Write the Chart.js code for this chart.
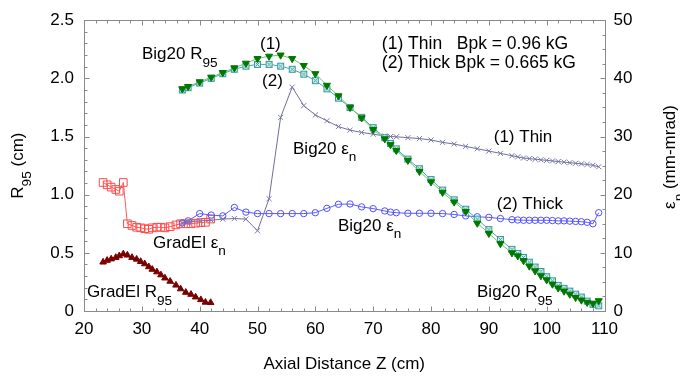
<!DOCTYPE html>
<html><head><meta charset="utf-8">
<script src="https://cdn.jsdelivr.net/npm/chart.js@4/dist/chart.umd.min.js"></script>
<style>html,body{margin:0;padding:0;background:#fff}</style>
</head><body>
<canvas id="c" width="680" height="379" style="width:680px;height:379px;display:block"></canvas>
<script>
// ---- data ----
const big20Z = [37,38,40,42,44,46,48,50,52,54,56,58,60,62,64,66,68,70,72,73,74,76,78,80,82,84,86,88,90,92,94,95,96,97,98,99,100,101,102,103,104,105,106,107,108,109];
const big20R95Thin = [1.91,1.93,1.97,2.01,2.05,2.09,2.13,2.17,2.19,2.20,2.17,2.11,2.04,1.94,1.85,1.75,1.66,1.56,1.48,1.43,1.38,1.295,1.20,1.11,1.02,0.937,0.855,0.755,0.667,0.579,0.50,0.474,0.433,0.386,0.345,0.303,0.268,0.231,0.198,0.171,0.144,0.116,0.094,0.074,0.066,0.088];
const big20R95Thick = [1.90,1.92,1.96,2.00,2.04,2.078,2.105,2.12,2.12,2.105,2.078,2.036,1.98,1.91,1.83,1.75,1.665,1.576,1.49,1.44,1.394,1.306,1.223,1.13,1.04,0.956,0.875,0.79,0.70,0.615,0.53,0.495,0.46,0.42,0.378,0.34,0.295,0.26,0.22,0.195,0.171,0.145,0.12,0.085,0.058,0.045];
const big20EpsThin = [15.1,15.3,15.5,15.6,15.8,15.9,15.8,13.8,19.3,33.3,38.5,35.3,33.7,32.7,31.7,31.1,30.7,30.4,30.1,30.0,29.95,29.8,29.65,29.4,29.0,28.7,28.3,27.9,27.5,27.1,26.7,26.5,26.3,26.2,26.1,26.0,25.9,25.8,25.7,25.6,25.5,25.4,25.3,25.2,25.05,24.8];
const big20EpsThick = [15.15,15.5,16.75,16.5,16.35,17.8,17.0,16.75,16.75,16.75,16.75,16.75,16.9,17.65,18.35,18.4,17.9,17.6,17.2,17.0,16.9,16.8,16.8,16.8,16.75,16.6,16.35,16.2,16.1,15.9,15.7,15.65,15.6,15.6,15.6,15.6,15.6,15.55,15.5,15.5,15.45,15.4,15.35,15.25,15.0,16.9];
const gradElZ = [23.3,24.0,24.7,25.5,26.1,26.8,27.5,28.3,29.1,29.8,30.5,31.2,31.8,32.6,33.3,34.0,34.9,35.9,36.7,37.6,38.5,39.3,40.2,41.0,41.9];
const gradElEps = [22.1,21.7,21.3,20.9,20.6,22.1,15.0,14.7,14.4,14.3,14.15,14.05,14.3,14.4,14.4,14.3,14.5,14.8,15.0,15.0,15.0,15.1,15.2,15.25,15.8];
const gradElR95 = [0.42,0.435,0.447,0.46,0.474,0.49,0.48,0.46,0.445,0.425,0.405,0.38,0.358,0.336,0.31,0.283,0.255,0.222,0.19,0.16,0.143,0.12,0.097,0.075,0.072];

const xTickValues = [20,30,40,50,60,70,80,90,100,110];
const xTickLabels = ['20','30','40','50','60','70','80','90','100','110'];
const leftTickValues = [0,0.5,1.0,1.5,2.0,2.5];
const leftTickLabels = ['0','0.5','1.0','1.5','2.0','2.5'];
const rightTickValues = [0,10,20,30,40,50];
const rightTickLabels = ['0','10','20','30','40','50'];

// ---- style ----
const FONT = '"Liberation Sans", Arial, Helvetica, sans-serif';
const FS = 17;

function boxX(stroke, fill){
  const s = 9, c = document.createElement('canvas');
  c.width = s; c.height = s;
  const g = c.getContext('2d');
  g.fillStyle = fill; g.fillRect(1,1,7,7);
  g.strokeStyle = stroke; g.lineWidth = 1;
  g.strokeRect(1.5,1.5,6,6);
  g.beginPath(); g.moveTo(2.5,2.5); g.lineTo(6.5,6.5); g.moveTo(6.5,2.5); g.lineTo(2.5,6.5); g.stroke();
  return c;
}

function series(xs, ys, axis, opt){
  return Object.assign({
    data: xs.map((x,i)=>({x:x, y:ys[i]})),
    yAxisID: axis, showLine:true, borderWidth:1, tension:0, fill:false
  }, opt);
}

const datasets = [
  series(big20Z, big20R95Thin, 'y', {borderColor:'#6cc46c', pointStyle:'triangle', rotation:180, pointRadius:4.1, pointBackgroundColor:'#007800', pointBorderColor:'#007800', pointBorderWidth:1}),
  series(big20Z, big20R95Thick, 'y', {borderColor:'#45a8a8', pointStyle:boxX('#3a9d9d','#d6eeee'), pointRadius:4}),
  series(big20Z, big20EpsThin, 'yR', {borderColor:'#6e6e9e', pointStyle:'crossRot', pointRadius:3.6, pointBorderColor:'#7a7aa8', pointBorderWidth:1}),
  series(big20Z, big20EpsThick, 'yR', {borderColor:'#5a5aff', pointStyle:'circle', pointRadius:3.2, pointBackgroundColor:'rgba(255,255,255,0)', pointBorderColor:'#5050ff', pointBorderWidth:1}),
  series(gradElZ, gradElEps, 'yR', {borderColor:'#ff5a5a', pointStyle:'rect', pointRadius:5.4, pointBackgroundColor:'rgba(255,255,255,0)', pointBorderColor:'#ff4a4a', pointBorderWidth:1}),
  series(gradElZ, gradElR95, 'y', {borderColor:'#800000', pointStyle:'triangle', pointRadius:3.8, pointBackgroundColor:'#7a0000', pointBorderColor:'#7a0000', pointBorderWidth:1})
];

// annotations: anchor = (z, R95) at left edge / text baseline
const annotations = [
  {z:30.03, r:2.165, parts:[['Big20 R',0],['95',1]]},
  {z:50.43, r:2.255, parts:[['(1)',0]]},
  {z:50.78, r:1.937, parts:[['(2)',0]]},
  {z:56.14, r:1.352, parts:[['Big20 \u03b5',0],['n',1]]},
  {z:71.50, r:2.252, size:17.5, parts:[['(1) Thin   Bpk = 0.96 kG',0]]},
  {z:71.50, r:2.092, size:17.5, parts:[['(2) Thick Bpk = 0.665 kG',0]]},
  {z:90.85, r:1.455, parts:[['(1) Thin',0]]},
  {z:91.38, r:0.881, parts:[['(2) Thick',0]]},
  {z:63.92, r:0.691, parts:[['Big20 \u03b5',0],['n',1]]},
  {z:87.96, r:0.121, parts:[['Big20 R',0],['95',1]]},
  {z:31.93, r:0.543, parts:[['GradEl \u03b5',0],['n',1]]},
  {z:20.52, r:0.121, parts:[['GradEl R',0],['95',1]]}
];

function drawRich(ctx, x, y, parts, size){
  let cx = x;
  for (const [t, sub] of parts){
    const fs = sub ? size*0.8 : size;
    ctx.font = fs + 'px ' + FONT;
    ctx.fillText(t, cx, sub ? y + size*0.45 : y);
    cx += ctx.measureText(t).width;
  }
  return cx - x;
}
function richWidth(ctx, parts, size){
  let w = 0;
  for (const [t, sub] of parts){ ctx.font = (sub ? size*0.8 : size) + 'px ' + FONT; w += ctx.measureText(t).width; }
  return w;
}

const framePlugin = {
  id:'frame',
  beforeDatasetsDraw(chart){
    const {ctx, chartArea:a, scales} = chart;
    const L = Math.round(a.left)+0.5, R = Math.round(a.right)+0.5, T = Math.round(a.top)+0.5, B = Math.round(a.bottom)+0.5;
    ctx.save();
    ctx.strokeStyle = '#8a8a8a'; ctx.lineWidth = 1;
    ctx.strokeRect(L, T, R-L, B-T);
    ctx.beginPath();
    const major = 5, minor = 3;
    for (let v = 20; v <= 110.001; v += 2){
      const px = Math.round(scales.x.getPixelForValue(v))+0.5;
      const len = (Math.abs(v % 10) < 1e-6) ? major : minor;
      ctx.moveTo(px, B); ctx.lineTo(px, B-len);
      ctx.moveTo(px, T); ctx.lineTo(px, T+len);
    }
    for (let i = 0; i <= 25; i++){
      const py = Math.round(scales.y.getPixelForValue(i/10))+0.5;
      const len = (i % 5 === 0) ? major : minor;
      ctx.moveTo(L, py); ctx.lineTo(L+len, py);
    }
    for (let i = 0; i <= 20; i++){
      const py = Math.round(scales.yR.getPixelForValue(i*2.5))+0.5;
      const len = (i % 4 === 0) ? major : minor;
      ctx.moveTo(R, py); ctx.lineTo(R-len, py);
    }
    ctx.stroke();
    ctx.restore();
  }
};

const textPlugin = {
  id:'texts',
  afterDraw(chart){
    const {ctx, chartArea:a, scales} = chart;
    ctx.save();
    ctx.fillStyle = '#000';
    ctx.textBaseline = 'alphabetic';
    ctx.textAlign = 'left';
    for (const an of annotations){
      drawRich(ctx, scales.x.getPixelForValue(an.z), scales.y.getPixelForValue(an.r), an.parts, an.size || FS);
    }
    // x title
    ctx.font = FS + 'px ' + FONT;
    ctx.textAlign = 'center';
    ctx.fillText('Axial Distance Z (cm)', (a.left+a.right)/2, 369);
    ctx.textAlign = 'left';
    // left title
    const lp = [['R',0],['95',1],[' (cm)',0]];
    let w = richWidth(ctx, lp, FS);
    ctx.save(); ctx.translate(23, (a.top+a.bottom)/2); ctx.rotate(-Math.PI/2);
    drawRich(ctx, -w/2, 0, lp, FS); ctx.restore();
    // right title
    const rp = [['\u03b5',0],['n',1],[' (mm-mrad)',0]];
    w = richWidth(ctx, rp, FS);
    ctx.save(); ctx.translate(675, 157); ctx.rotate(-Math.PI/2);
    drawRich(ctx, -w/2, 0, rp, FS); ctx.restore();
    ctx.restore();
  }
};

function fixedTicks(values){ return s => { s.ticks = values.map(v => ({value:v})); }; }

new Chart(document.getElementById('c'), {
  type:'line',
  data:{datasets:datasets},
  options:{
    responsive:false, animation:false, devicePixelRatio:1,
    layout:{padding:{top:8,left:0,right:0,bottom:0}},
    plugins:{legend:{display:false}, tooltip:{enabled:false}},
    elements:{line:{borderWidth:1}},
    scales:{
      x:{type:'linear', min:20, max:110,
         afterBuildTicks: fixedTicks(xTickValues),
         afterFit: s => { s.height = 68; },
         ticks:{autoSkip:false, maxRotation:0, color:'#000', font:{family:FONT, size:FS}, padding:8,
                callback:(v)=>xTickLabels[xTickValues.indexOf(v)]},
         grid:{display:false, drawTicks:false}, border:{display:false}},
      y:{type:'linear', position:'left', min:0, max:2.5,
         afterBuildTicks: fixedTicks(leftTickValues),
         afterFit: s => { s.width = 84; },
         ticks:{color:'#000', font:{family:FONT, size:FS}, padding:10,
                callback:(v)=>leftTickLabels[leftTickValues.findIndex(t=>Math.abs(t-v)<1e-9)]},
         grid:{display:false, drawTicks:false}, border:{display:false}},
      yR:{type:'linear', position:'right', min:0, max:50,
         afterBuildTicks: fixedTicks(rightTickValues),
         afterFit: s => { s.width = 75.5; },
         ticks:{color:'#000', font:{family:FONT, size:FS}, padding:9,
                callback:(v)=>rightTickLabels[rightTickValues.indexOf(v)]},
         grid:{display:false, drawTicks:false}, border:{display:false}}
    }
  },
  plugins:[framePlugin, textPlugin]
});
</script>
</body></html>
